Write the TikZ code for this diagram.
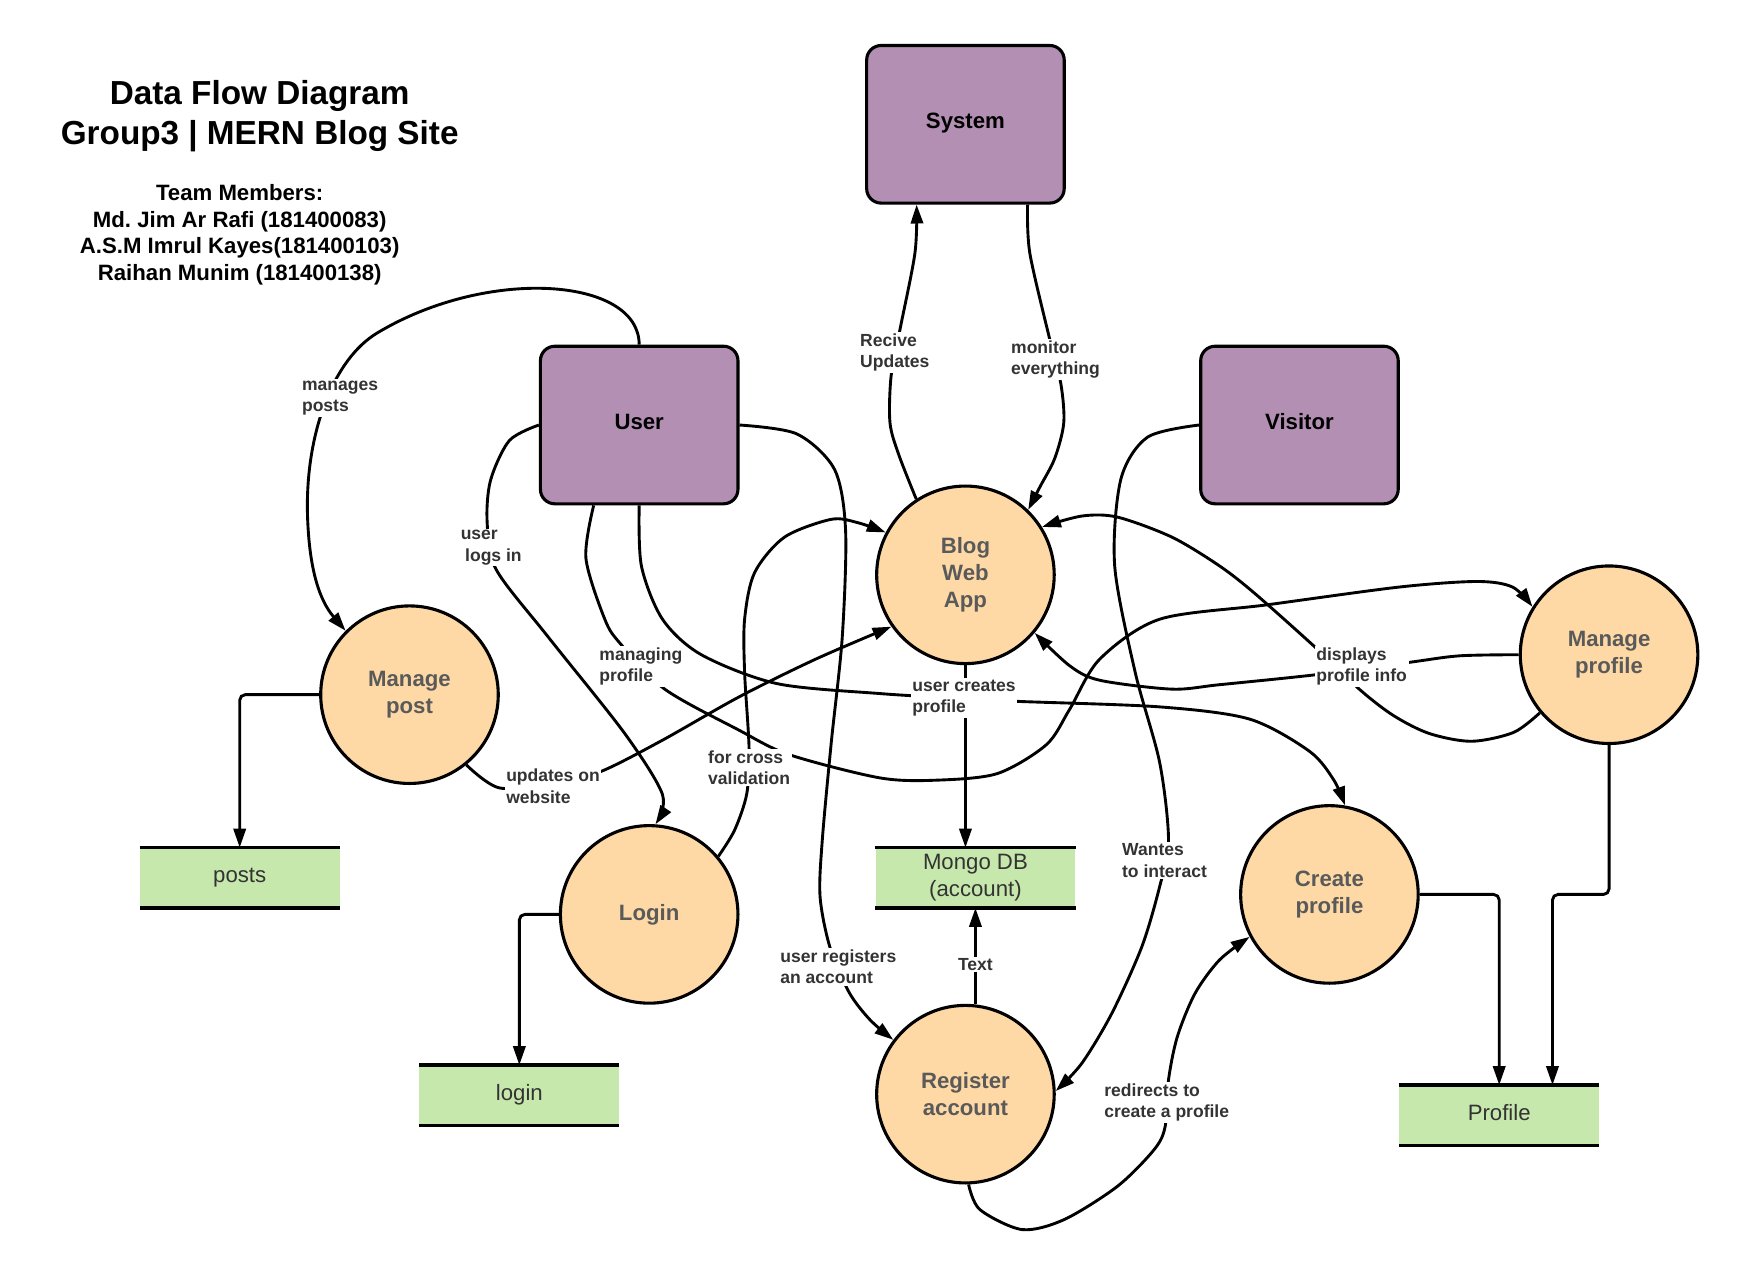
\documentclass[tikz,border=0pt]{standalone}
\usepackage{fontspec}
\setmainfont{Liberation Sans}
\usetikzlibrary{arrows.meta}
\definecolor{extfill}{RGB}{179,143,179}
\definecolor{procfill}{RGB}{254,217,166}
\definecolor{storefill}{RGB}{199,232,172}
\definecolor{proctext}{RGB}{90,90,90}
\definecolor{labeltext}{RGB}{51,51,51}
\begin{document}
\frenchspacing
\begin{tikzpicture}[x=1pt,y=-1pt,
  ext/.style={draw=black, line width=2.8pt, fill=extfill, rounded corners=13pt, minimum width=178pt, minimum height=142pt, inner sep=0pt, text height=14pt, text depth=5.6pt, font=\fontsize{20}{24}\selectfont\bfseries},
  proc/.style={circle, draw=black, line width=2.8pt, fill=procfill, minimum size=160pt, inner sep=0pt, align=center, text=proctext, font=\fontsize{20}{24}\selectfont\bfseries},
  store/.style={fill=storefill, minimum width=180pt, minimum height=54pt, inner sep=0pt, align=center, text=labeltext, font=\fontsize{20}{24}\selectfont},
  storeone/.style={store, text height=14pt, text depth=4.6pt},
  storeline/.style={line width=3pt},
  flow/.style={line width=2.6pt, -{Triangle[length=17pt,width=11pt]}},
  lbl/.style={fill=white, inner sep=1.5pt, align=left, text=labeltext, font=\fontsize{15.8}{19}\selectfont\bfseries},
]
\useasboundingbox (0,0) rectangle (1568,1146);

% titles
\node[font=\fontsize{30}{36}\selectfont\bfseries, align=center] (title) at (234,105) {Data Flow Diagram\\Group3 | MERN Blog Site};
\node[font=\fontsize{20}{24}\selectfont\bfseries, align=center] (team) at (216,211.5) {Team Members:\\Md. Jim Ar Rafi (181400083)\\A.S.M Imrul Kayes(181400103)\\Raihan Munim (181400138)};

% external entities
\node[ext] (system) at (870,112) {System};
\node[ext] (user) at (576,383) {User};
\node[ext] (visitor) at (1171,383) {Visitor};

% processes
\node[proc] (blog) at (870,518) {Blog\\Web\\App};
\node[proc] (mpost) at (369,626) {Manage\\post};
\node[proc] (login) at (585,824) {Login};
\node[proc] (mprof) at (1450,590) {Manage\\profile};
\node[proc] (cprof) at (1198,806) {Create\\profile};
\node[proc] (reg) at (870,986) {Register\\account};

% data stores
\node[storeone] (sposts) at (216,791) {posts};
\node[storeone] (slogin) at (468,987) {login};
\node[store] (smongo) at (879,791) {Mongo DB\\(account)};
\node[storeone] (sprofile) at (1351,1005) {Profile};
\foreach \s in {sposts,slogin,smongo,sprofile}
  \draw[storeline] (\s.north west) -- (\s.north east) (\s.south west) -- (\s.south east);

% curved flows
\draw[flow] (user.north) .. controls (576,250) and (440,240) .. (340,300)
  .. controls (300,324) and (276,390) .. (277,460)
  .. controls (278,510) and (287,540) .. (mpost.135);
\draw[flow] plot[smooth] coordinates {(user.west) (459,397) (442,433) (439,471) (447,513) (494,574) (563,661) (597,716) (login.86)};
\draw[flow] plot[smooth] coordinates {([xshift=-41pt]user.south) (528,503) (545,558) (559,580) (599,621) (666,658) (711,680) (793,701) (845,703) (899,697) (943,671) (964,639) (991,594) (1045,558) (1142,545) (1261,529) (1331,524) (1363,529) (mprof.148)};
\draw[flow] plot[smooth] coordinates {(user.south) (578,510) (597,558) (632,590) (700,616) (793,625) (860,629) (916,632) (1045,637) (1126,648) (1180,677) (1202,703) (cprof.80)};
\draw[flow] plot[smooth] coordinates {(user.east) (718,391) (752,423) (762,478) (759,574) (749,670) (741,757) (739,808) (748,854) (765,894) (784,919) (reg.143)};
\draw[flow] plot[smooth] coordinates {(login.40) (662,748) (673,715) (675,674) (671,606) (671,558) (680,516) (707,484) (749,468) (773,471) (blog.152)};
\draw[flow] plot[smooth] coordinates {(mpost.309) (450,710) (500,706) (542,695) (597,667) (666,628) (735,594) (blog.215)};
\draw[flow] plot[smooth] coordinates {(blog.123) (810,410) (802,381) (803,339) (811,297) (824.5,228) ([xshift=-44pt]system.south)};
\draw[flow] plot[smooth] coordinates {([xshift=56pt]system.south) (928,228) (946,306) (956,346) (958.6,381) (950.5,413) (937,439) (blog.46)};
\draw[flow] plot[smooth] coordinates {(visitor.west) (1034,394) (1010,432) (1004.5,510) (1023,606) (1045,687) (1053,757) (1045,799) (1029,853) (1002,913) (975,958) (reg.2)};
\draw[flow] plot[smooth] coordinates {(mprof.west) (1315,591) (1269,597) (1186,608) (1099,617) (1056,621) (991,613) (964,600) (blog.320)};
\draw[flow] plot[smooth] coordinates {(mprof.220) (1364,660) (1326,668) (1288,661) (1256,645) (1226,622) (1186,584) (1131,535) (1099,510) (1056,484) (1007,466) (975,465) (blog.32)};
\draw[flow] plot[smooth] coordinates {(reg.272) (883,1090) (921,1108) (959,1099) (1007,1069) (1040,1036) (1050,1015) (1053,973) (1061,934) (1077,895) (1099,865) (cprof.208)};

% straight flows
\draw[flow] (blog.south) -- (blog.south |- smongo.north);
\draw[flow] (smongo.south |- reg.84) -- (smongo.south);
\draw[flow, rounded corners=5pt] (mpost.west) -| (sposts.north);
\draw[flow, rounded corners=5pt] (login.west) -| (slogin.north);
\draw[flow, rounded corners=5pt] (cprof.east) -| (sprofile.north);
\coordinate (jn) at (1399,806);
\draw[flow, rounded corners=5pt] (mprof.south) |- (jn) -- (jn |- sprofile.north);

% labels
\node[lbl, anchor=west] (lmanages) at (270.5,358.5) {manages\\posts};
\node[lbl, anchor=west] (llogs) at (413.5,493.5) {user\\\hspace*{4pt}logs in};
\node[lbl, anchor=west] (lmanaging) at (538.5,600.5) {managing\\profile};
\node[lbl, anchor=west] (lcreates) at (820.5,629) {user creates\\profile};
\node[lbl, anchor=west] (lupdates) at (454.5,708.5) {updates on\\website};
\node[lbl, anchor=west] (lcross) at (636.5,691.5) {for cross\\validation};
\node[lbl, anchor=west] (lrecive) at (773.5,317.5) {Recive\\Updates};
\node[lbl, anchor=west] (lmonitor) at (909.5,324) {monitor\\everything};
\node[lbl, anchor=west] (ldisplays) at (1184.5,600.5) {displays\\profile info};
\node[lbl, anchor=west] (lwantes) at (1009.5,775.5) {Wantes\\to interact};
\node[lbl, anchor=west] (lregisters) at (701.5,871.5) {user registers\\an account};
\node[lbl] (ltext) at (879,869) {Text};
\node[lbl, anchor=west] (lredirects) at (993.5,993.5) {redirects to\\create a profile};
\end{tikzpicture}
\end{document}
